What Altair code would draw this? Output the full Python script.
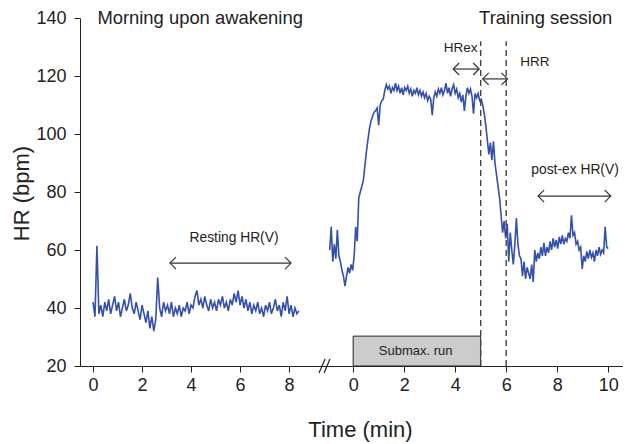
import altair as alt
import pandas as pd

# ---------------- data ----------------
# Morning (upon awakening) HR, sampled every 0.08 min from t = 0
MORNING_DT = 0.08
morning_hr = [
    42, 37, 61.5, 38, 41, 37, 42, 39, 43, 38,
    41, 44, 39, 42, 37, 40, 43, 39, 41, 45,
    40, 38, 42, 39, 36, 41, 38, 35, 39, 33,
    37, 32, 36, 50.5, 40, 37, 42, 39, 41, 38,
    42, 37, 40, 38, 41, 37, 40, 39, 42, 38,
    41, 40, 44, 46, 41, 43, 40, 44, 41, 39,
    43, 40, 42, 39, 43, 41, 44, 40, 42, 39,
    43, 41, 45, 42, 46, 41, 44, 40, 43, 39,
    42, 38, 41, 39, 42, 38, 40, 37, 41, 39,
    42, 38, 40, 43, 39, 41, 37, 42, 39, 44,
    38, 41, 37, 40, 38, 39,
]

# Training session HR, sampled every 0.06 min from t = -0.92
TRAIN_T0 = -0.92
TRAIN_DT = 0.06
training_hr = [
    60, 68, 56, 62, 57, 67, 58, 56, 53, 51,
    47.5, 51, 54, 52, 55, 53, 58, 68, 63, 78,
    80, 82, 84, 89, 94, 98, 102, 104.5, 106, 107.5,
    108, 109, 103, 110, 111.5, 112, 115, 117, 115.5, 116.5,
    114, 116, 115, 117.5, 115, 116.5, 114, 116, 113.5, 116,
    115, 116.5, 114, 115.5, 113, 115, 114, 116, 113.5, 115,
    113, 114.5, 112.5, 114, 111.5, 113, 112, 106.5, 112.5, 114.5,
    113, 115.5, 114, 116, 113.5, 115, 117.5, 114, 116, 113,
    115.5, 117, 114, 115.5, 112.5, 114, 111, 113.5, 108, 113,
    116, 114, 115.5, 113, 107, 114, 112.5, 114, 111.5, 112,
    110, 107, 103, 98, 93, 97, 91, 97.5, 90, 86,
    82, 78, 72, 66, 70, 64, 69, 56, 66, 60,
    55, 62, 71, 62, 58, 57, 51, 56, 50, 54,
    52, 50, 55, 49, 60, 56, 59, 57, 61, 58,
    62.5, 58, 61, 59, 63, 60, 64, 61, 63.5, 60.5,
    64.5, 62, 65, 62, 64, 63, 66, 64, 72, 65,
    66, 62, 63, 60, 61, 53.5, 58, 56, 59.5, 57,
    60, 57.5, 59, 56, 60, 58, 61, 58.5, 60, 59,
    68, 61, 60.5,
]

left_tick_labels = [0, 2, 4, 6, 8]
right_tick_labels = [0, 2, 4, 6, 8, 10]
y_ticks = [20, 40, 60, 80, 100, 120, 140]

# broken-axis mapping (left part slightly compressed, right part offset)
LEFT_SCALE = 0.961
RIGHT_OFFSET = 10.2
X_DOMAIN = [-0.51, 20.78]
Y_DOMAIN = [20, 140]

LINE_COLOR = "#3450aa"
FONT = "Liberation Sans"

rows = []
for i, v in enumerate(morning_hr):
    t = i * MORNING_DT
    rows.append({"seg": "morning", "u": t * LEFT_SCALE, "hr": v})
for i, v in enumerate(training_hr):
    t = TRAIN_T0 + i * TRAIN_DT
    rows.append({"seg": "training", "u": RIGHT_OFFSET + t, "hr": v})
df = pd.DataFrame(rows)

tick_values = [t * LEFT_SCALE for t in left_tick_labels] + [RIGHT_OFFSET + t for t in right_tick_labels]
label_expr = (
    f"datum.value > 9 ? '' + round(datum.value - {RIGHT_OFFSET}) "
    f": '' + round(datum.value / {LEFT_SCALE})"
)

xscale = alt.Scale(domain=X_DOMAIN, nice=False, zero=False)
yscale = alt.Scale(domain=Y_DOMAIN, nice=False, zero=False)

x_axis = alt.Axis(
    values=tick_values,
    labelExpr=label_expr,
    title="Time (min)",
    titleFontSize=22,
    titleFontWeight="normal",
    titleX=280,
    titleY=70,
    titleBaseline="alphabetic",
    labelFontSize=18,
    labelPadding=4,
    tickSize=6,
    grid=False,
)
y_axis = alt.Axis(
    values=y_ticks,
    title="HR (bpm)",
    titleFontSize=22,
    titleFontWeight="normal",
    titleAngle=270,
    titleX=-59,
    titleY=175,
    titleAlign="center",
    titleBaseline="middle",
    labelFontSize=18,
    labelPadding=8,
    tickSize=6,
    grid=False,
)


def X(field):
    return alt.X(field, scale=xscale, axis=x_axis)


def Y(field):
    return alt.Y(field, scale=yscale, axis=y_axis)


line = alt.Chart(df).mark_line(color=LINE_COLOR, strokeWidth=1.6).encode(
    x=X("u:Q"),
    y=Y("hr:Q"),
    detail="seg:N",
    order="u:Q",
)

# Submax. run box
box_df = pd.DataFrame({"u1": [RIGHT_OFFSET + 0], "u2": [RIGHT_OFFSET + 5], "v1": [20], "v2": [30.3]})
box = alt.Chart(box_df).mark_rect(fill="#cccccc", stroke="#222222", strokeWidth=1).encode(
    x=X("u1:Q"), x2="u2:Q", y=Y("v1:Q"), y2="v2:Q",
)

# dashed vertical lines at 5 and 6 min of training
dash_df = pd.DataFrame({"u": [RIGHT_OFFSET + 5, RIGHT_OFFSET + 6], "v1": [20, 20], "v2": [132, 132]})
dashes = alt.Chart(dash_df).mark_rule(color="#444444", strokeWidth=1.4, strokeDash=[6, 4]).encode(
    x=X("u:Q"), y=Y("v1:Q"), y2="v2:Q",
)

# double-headed arrows
arrow_df = pd.DataFrame({
    "u1": [3.14 * LEFT_SCALE, RIGHT_OFFSET + 7.25, RIGHT_OFFSET + 3.92, RIGHT_OFFSET + 5.08],
    "u2": [8.08 * LEFT_SCALE, RIGHT_OFFSET + 10.1, RIGHT_OFFSET + 4.94, RIGHT_OFFSET + 6.05],
    "v": [55.5, 78.6, 122.4, 119.0],
})
arrow_color = "#333333"
arrow_line = alt.Chart(arrow_df).mark_rule(color=arrow_color, strokeWidth=1.2).encode(
    x=X("u1:Q"), x2="u2:Q", y=Y("v:Q"),
)
head_l = alt.Chart(arrow_df).mark_point(
    shape="M1,-1L0,0L1,1", size=144, filled=False, opacity=1, color=arrow_color, strokeWidth=1.2
).encode(x=X("u1:Q"), y=Y("v:Q"))
head_r = alt.Chart(arrow_df).mark_point(
    shape="M-1,-1L0,0L-1,1", size=144, filled=False, opacity=1, color=arrow_color, strokeWidth=1.2
).encode(x=X("u2:Q"), y=Y("v:Q"))

# axis break marks
brk_df = pd.DataFrame({"u1": [8.86, 9.06], "u2": [9.10, 9.29], "v1": [17.6, 17.6], "v2": [22.4, 22.4]})
brk = alt.Chart(brk_df).mark_rule(color="#222222", strokeWidth=1.2).encode(
    x=X("u1:Q"), x2="u2:Q", y=Y("v1:Q"), y2="v2:Q",
)


def text_layer(labels, us, vs, size, align="center", baseline="middle"):
    d = pd.DataFrame({"label": labels, "u": us, "v": vs})
    return alt.Chart(d).mark_text(
        font=FONT, fontSize=size, align=align, baseline=baseline, color="#222222"
    ).encode(
        x=X("u:Q"),
        y=Y("v:Q"),
        text="label:N",
    )


headers = text_layer(["Morning upon awakening", "Training session"], [4.2, 17.75], [138.0, 138.0], 18.4,
                     baseline="alphabetic")
notes = text_layer(["Resting HR(V)", "post-ex HR(V)"], [5.53, 18.9], [64.0, 87.6], 13.8)
hrex = text_layer(["HRex"], [RIGHT_OFFSET + 4.88], [129.7], 13.5, align="right")
hrr = text_layer(["HRR"], [RIGHT_OFFSET + 6.55], [124.8], 13.5, align="left")
submax = text_layer(["Submax. run"], [RIGHT_OFFSET + 2.45], [25.2], 13)

chart = alt.layer(
    line, box, dashes, arrow_line, head_l, head_r, brk, headers, notes, hrex, hrr, submax
).properties(
    width=543,
    height=348,
    autosize=alt.AutoSizeParams(type="none"),
    padding={"left": 72, "top": 10, "right": 0, "bottom": 78},
).configure(font=FONT).configure_view(stroke=None).configure_axis(
    domainColor="#222222", tickColor="#222222", labelColor="#222222", titleColor="#222222",
    labelFont=FONT, titleFont=FONT,
)

chart.save("out.html", embed_options={"renderer": "svg", "actions": False})
